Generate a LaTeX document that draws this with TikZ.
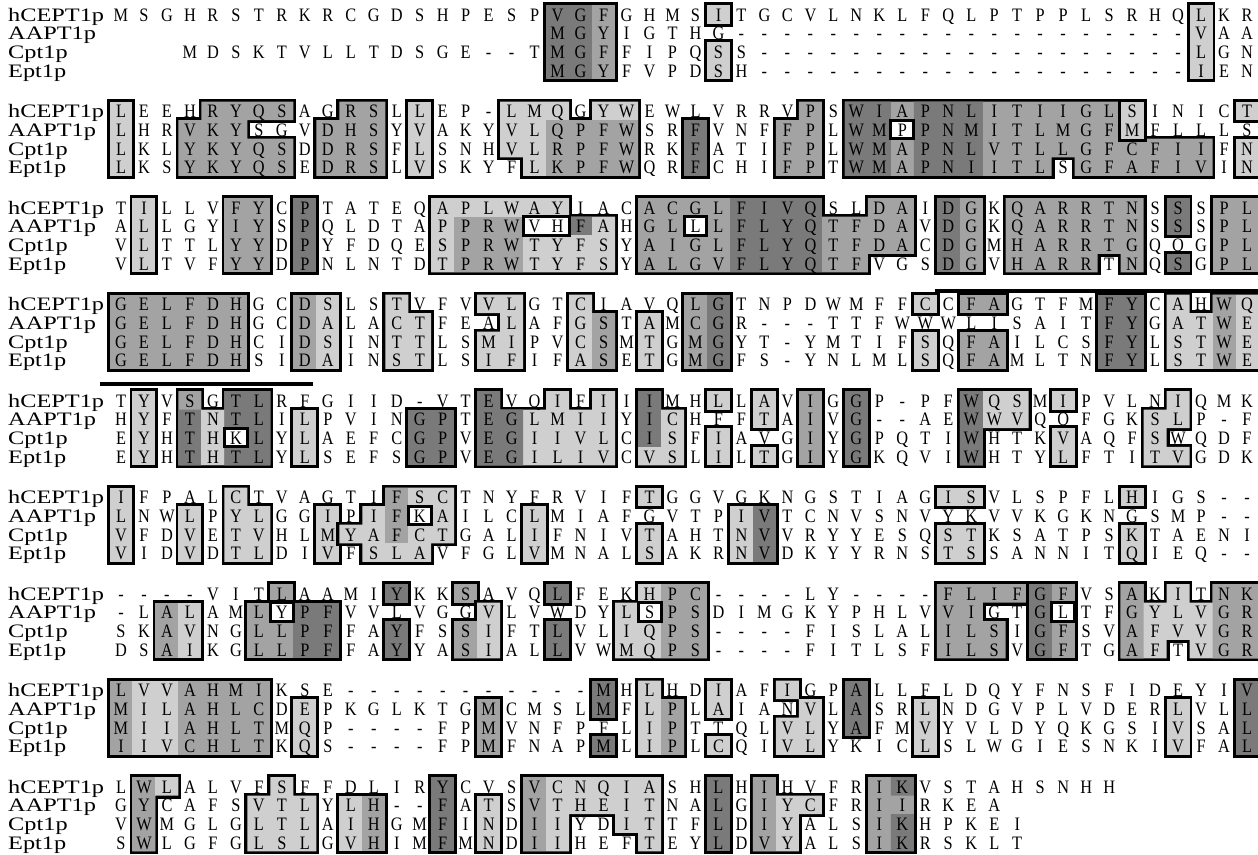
\documentclass[tikz,border=0pt]{standalone}
\usepackage{fontspec}
\setmainfont{Liberation Serif}
\usepackage{graphicx}
\colorlet{dk}{black!52}
\colorlet{md}{black!36}
\colorlet{lt}{black!19}
\def\z{}
\newcommand\setblock[1]{\pgfmathsetmacro\by{15+(#1-1)*96.5}}
\newcommand\bx[4]{({121+(#1-1)*22.98-11.49},{\by+(#3-1)*18.6-10}) rectangle ({121+(#2-1)*22.98+11.49},{\by+(#4-1)*18.6+8.6})}
\newcommand\Grp[2]{\draw[line width=5.8pt] #2; \fill[#1] #2;}
\newcommand\Sh[2]{\fill[#1] #2;}
\newcommand\Hole[1]{\draw[line width=3pt, fill=white] #1;}
\newcommand\SR[3]{\foreach \ch [count=\ci] in {#3}{\node[seq] (b#1r#2c\ci) at ({121+(\ci-1)*22.98},{15+(#1-1)*96.5+(#2-1)*18.6+6.3}) {\scalebox{0.86}[1]{\ch}};}}
\begin{document}
\begin{tikzpicture}[x=1pt,y=-1pt,
  seq/.style={font=\fontsize{19}{19}\selectfont, anchor=base, inner sep=0pt},
  lab/.style={font=\fontsize{19}{19}\selectfont, anchor=base west, inner sep=0pt},
  bar/.style={line width=4pt}]
\useasboundingbox (0,0) rectangle (1258,854);
\fill[white] (0,0) rectangle (1258,854);
% ---------------- block 1
\setblock{1}
\Grp{md}{\bx{20}{22}{1}{4}} \Sh{dk}{\bx{20}{21}{1}{4}}
\Grp{lt}{\bx{27}{27}{1}{1}}
\Grp{lt}{\bx{27}{27}{3}{4}}
\Grp{lt}{\bx{48}{48}{1}{4}}
% ---------------- block 2
\setblock{2}
\Grp{lt}{\bx{1}{1}{1}{4}}
\Grp{md}{\bx{5}{8}{1}{1} \bx{4}{6}{2}{2} \bx{4}{8}{3}{4}}
\Grp{md}{\bx{11}{12}{1}{1} \bx{10}{12}{2}{4}}
\Grp{lt}{\bx{14}{14}{1}{4}}
\Grp{lt}{\bx{18}{20}{1}{1} \bx{22}{23}{1}{1} \bx{18}{23}{2}{3} \bx{19}{23}{4}{4}} \Sh{md}{\bx{20}{23}{2}{4}}
\Grp{dk}{\bx{26}{26}{2}{4}}
\Grp{md}{\bx{31}{31}{1}{1} \bx{30}{31}{2}{4}}
\Grp{md}{\bx{33}{44}{1}{2} \bx{33}{48}{3}{3} \bx{33}{41}{4}{4} \bx{43}{48}{4}{4}} \Sh{dk}{\bx{33}{34}{1}{4} \bx{36}{38}{1}{4}} \Hole{\bx{35}{35}{2}{2}}
\Grp{lt}{\bx{45}{45}{1}{2}}
\Grp{lt}{\bx{50}{50}{1}{1}}
\Grp{lt}{\bx{50}{50}{3}{4}}
% ---------------- block 3
\setblock{3}
\Grp{lt}{\bx{2}{2}{1}{4}}
\Grp{md}{\bx{6}{7}{1}{4}}
\Grp{dk}{\bx{9}{9}{1}{4}}
\Grp{lt}{\bx{15}{20}{1}{1} \bx{15}{22}{2}{4}} \Sh{md}{\bx{16}{18}{2}{4}} \Sh{dk}{\bx{21}{21}{2}{2}} \Hole{\bx{19}{20}{2}{2}}
\Grp{md}{\bx{24}{31}{1}{1} \bx{34}{35}{1}{1} \bx{24}{35}{2}{3} \bx{24}{33}{4}{4}} \Sh{dk}{\bx{28}{31}{1}{4}} \Hole{\bx{26}{26}{2}{2}}
\Grp{md}{\bx{37}{38}{1}{4}} \Sh{dk}{\bx{37}{37}{1}{4}}
\Grp{md}{\bx{40}{45}{1}{3} \bx{40}{43}{4}{4} \bx{45}{45}{4}{4}}
\Grp{dk}{\bx{47}{47}{1}{2}}
\Grp{dk}{\bx{47}{47}{4}{4}}
\Grp{md}{\bx{49}{50}{1}{4}}
% ---------------- block 4
\setblock{4}
\Grp{md}{\bx{1}{6}{1}{4}}
\Grp{lt}{\bx{9}{10}{1}{4}} \Sh{md}{\bx{9}{9}{1}{4}}
\Grp{lt}{\bx{13}{13}{1}{4} \bx{14}{14}{2}{4}}
\Grp{lt}{\bx{17}{18}{1}{1} \bx{18}{18}{2}{2} \bx{17}{18}{3}{4}}
\Grp{lt}{\bx{21}{21}{1}{4} \bx{22}{22}{2}{4}} \Sh{md}{\bx{22}{22}{2}{4}}
\Grp{lt}{\bx{24}{24}{2}{4}}
\Grp{md}{\bx{26}{27}{1}{4}} \Sh{dk}{\bx{27}{27}{1}{4}}
\Grp{lt}{\bx{36}{36}{1}{1}}
\Grp{lt}{\bx{36}{36}{3}{4}}
\Grp{md}{\bx{38}{39}{1}{1}}
\Grp{md}{\bx{38}{39}{3}{4}}
\Grp{dk}{\bx{44}{45}{1}{4}}
\Grp{lt}{\bx{47}{47}{1}{1} \bx{49}{50}{1}{1} \bx{47}{50}{2}{4}} \Sh{md}{\bx{49}{49}{1}{4}}
\coordinate (t1) at (935,291); \coordinate (t2) at (1258,291);
\coordinate (u1) at (100,384); \coordinate (u2) at (313,384);
\draw[bar] (t1) -- (t2);
\draw[bar] (u1) -- (u2);
% ---------------- block 5
\setblock{5}
\Grp{lt}{\bx{2}{2}{1}{4}}
\Grp{md}{\bx{4}{4}{1}{1} \bx{6}{7}{1}{1} \bx{4}{7}{2}{4}} \Sh{dk}{\bx{4}{4}{2}{4} \bx{6}{7}{1}{4}} \Sh{lt}{\bx{5}{5}{2}{4}} \Hole{\bx{6}{6}{3}{3}}
\Grp{lt}{\bx{9}{9}{2}{4}}
\Grp{dk}{\bx{14}{15}{2}{4}}
\Grp{lt}{\bx{17}{17}{1}{1} \bx{20}{20}{1}{1} \bx{22}{22}{1}{1} \bx{17}{22}{2}{4}} \Sh{dk}{\bx{17}{17}{1}{4} \bx{18}{18}{2}{4}}
\Grp{lt}{\bx{24}{24}{1}{4} \bx{25}{25}{2}{4}} \Sh{dk}{\bx{24}{24}{1}{3}}
\Grp{lt}{\bx{27}{27}{1}{1}}
\Grp{lt}{\bx{27}{27}{3}{4}}
\Grp{lt}{\bx{29}{29}{1}{2}}
\Grp{lt}{\bx{29}{29}{4}{4}}
\Grp{md}{\bx{31}{31}{1}{4}}
\Grp{dk}{\bx{33}{33}{1}{4}}
\Grp{lt}{\bx{38}{40}{1}{2} \bx{38}{38}{3}{4}} \Sh{dk}{\bx{38}{38}{1}{4}}
\Grp{lt}{\bx{42}{42}{1}{1}}
\Grp{lt}{\bx{42}{42}{3}{4}}
\Grp{lt}{\bx{47}{47}{1}{1} \bx{46}{47}{2}{2} \bx{46}{46}{3}{3} \bx{46}{47}{4}{4}}
% ---------------- block 6
\setblock{6}
\Grp{lt}{\bx{1}{1}{1}{4}}
\Grp{lt}{\bx{4}{4}{2}{4}}
\Grp{lt}{\bx{6}{6}{1}{1} \bx{6}{7}{2}{4}}
\Grp{lt}{\bx{10}{10}{2}{4}}
\Grp{lt}{\bx{13}{15}{1}{1} \bx{12}{15}{2}{2} \bx{11}{15}{3}{3} \bx{12}{14}{4}{4}} \Sh{md}{\bx{13}{13}{1}{3}} \Hole{\bx{14}{14}{2}{2}}
\Grp{lt}{\bx{19}{19}{2}{4}}
\Grp{lt}{\bx{24}{24}{1}{1}}
\Grp{lt}{\bx{24}{24}{3}{4}}
\Grp{lt}{\bx{28}{29}{2}{4}} \Sh{dk}{\bx{29}{29}{2}{4}}
\Grp{lt}{\bx{37}{38}{1}{1}}
\Grp{lt}{\bx{37}{38}{3}{4}}
\Grp{lt}{\bx{45}{45}{1}{1}}
\Grp{lt}{\bx{45}{45}{3}{4}}
% ---------------- block 7
\setblock{7}
\Grp{lt}{\bx{3}{4}{2}{4}} \Sh{md}{\bx{3}{3}{2}{4}}
\Grp{md}{\bx{8}{8}{1}{1}}
\Grp{md}{\bx{7}{10}{2}{4}} \Sh{dk}{\bx{9}{10}{2}{4}} \Hole{\bx{8}{8}{2}{2}}
\Grp{dk}{\bx{13}{13}{1}{1}}
\Grp{dk}{\bx{13}{13}{3}{4}}
\Grp{md}{\bx{16}{16}{1}{1}}
\Grp{lt}{\bx{16}{16}{3}{4} \bx{17}{17}{2}{4}} \Sh{md}{\bx{16}{16}{3}{4}}
\Grp{dk}{\bx{20}{20}{1}{1}}
\Grp{dk}{\bx{20}{20}{3}{4}}
\Grp{lt}{\bx{24}{26}{1}{1} \bx{23}{26}{2}{4}} \Sh{md}{\bx{25}{26}{1}{4}} \Hole{\bx{24}{24}{2}{2}}
\Grp{md}{\bx{37}{40}{1}{1} \bx{37}{38}{2}{2} \bx{37}{39}{3}{4}}
\Grp{md}{\bx{41}{42}{1}{4}} \Sh{dk}{\bx{41}{41}{1}{4}} \Hole{\bx{42}{42}{2}{2}}
\Grp{lt}{\bx{45}{45}{1}{1} \bx{47}{47}{1}{1} \bx{49}{50}{1}{1} \bx{45}{50}{2}{3} \bx{45}{46}{4}{4} \bx{48}{50}{4}{4}} \Sh{md}{\bx{45}{45}{1}{4} \bx{49}{50}{1}{4}}
% ---------------- block 8
\setblock{8}
\Grp{md}{\bx{1}{7}{1}{4}} \Sh{lt}{\bx{2}{3}{1}{4}}
\Grp{lt}{\bx{9}{9}{2}{4}}
\Grp{md}{\bx{17}{17}{2}{4}}
\Grp{dk}{\bx{22}{22}{1}{2}}
\Grp{dk}{\bx{22}{22}{4}{4}}
\Grp{lt}{\bx{24}{24}{1}{4} \bx{25}{25}{2}{4}} \Sh{md}{\bx{25}{25}{2}{4}}
\Grp{lt}{\bx{27}{27}{1}{2}}
\Grp{lt}{\bx{27}{27}{4}{4}}
\Grp{lt}{\bx{30}{30}{1}{1} \bx{31}{31}{2}{2} \bx{30}{31}{3}{4}}
\Grp{dk}{\bx{33}{33}{1}{3}}
\Grp{lt}{\bx{36}{36}{2}{4}}
\Grp{lt}{\bx{47}{47}{2}{4}}
\Grp{dk}{\bx{50}{50}{1}{4}}
% ---------------- block 9
\setblock{9}
\Grp{lt}{\bx{2}{3}{1}{1} \bx{2}{2}{2}{4}} \Sh{md}{\bx{2}{2}{1}{4}}
\Grp{lt}{\bx{8}{8}{1}{1} \bx{7}{9}{2}{4}}
\Grp{lt}{\bx{11}{12}{2}{4}} \Sh{md}{\bx{12}{12}{2}{4}}
\Grp{dk}{\bx{15}{15}{1}{4}}
\Grp{lt}{\bx{17}{17}{2}{4}}
\Grp{lt}{\bx{19}{24}{1}{2} \bx{19}{20}{3}{4} \bx{23}{24}{3}{3} \bx{24}{24}{4}{4}} \Sh{md}{\bx{19}{19}{1}{4}}
\Grp{dk}{\bx{27}{27}{1}{4}}
\Grp{lt}{\bx{29}{29}{1}{4} \bx{30}{30}{2}{4} \bx{31}{31}{2}{2}} \Sh{md}{\bx{29}{29}{1}{4}}
\Grp{md}{\bx{34}{35}{1}{4}} \Sh{dk}{\bx{35}{35}{1}{1} \bx{35}{35}{3}{4}}
% ---------------- labels
\foreach \b in {1,...,9}{
  \node[lab] (lab\b a) at (8,{15+(\b-1)*96.5+6.3}) {\scalebox{1.28}[1]{hCEPT1p}};
  \node[lab] (lab\b b) at (8,{15+(\b-1)*96.5+18.6+6.3}) {\scalebox{1.28}[1]{AAPT1p}};
  \node[lab] (lab\b c) at (8,{15+(\b-1)*96.5+37.2+6.3}) {\scalebox{1.28}[1]{Cpt1p}};
  \node[lab] (lab\b d) at (8,{15+(\b-1)*96.5+55.8+6.3}) {\scalebox{1.28}[1]{Ept1p}};
}
% ---------------- sequences
\SR{1}{1}{M,S,G,H,R,S,T,R,K,R,C,G,D,S,H,P,E,S,P,V,G,F,G,H,M,S,I,T,G,C,V,L,N,K,L,F,Q,L,P,T,P,P,L,S,R,H,Q,L,K,R}
\SR{1}{2}{\z,\z,\z,\z,\z,\z,\z,\z,\z,\z,\z,\z,\z,\z,\z,\z,\z,\z,\z,M,G,Y,I,G,T,H,G,-,-,-,-,-,-,-,-,-,-,-,-,-,-,-,-,-,-,-,-,V,A,A}
\SR{1}{3}{\z,\z,\z,M,D,S,K,T,V,L,L,T,D,S,G,E,-,-,T,M,G,F,F,I,P,Q,S,S,-,-,-,-,-,-,-,-,-,-,-,-,-,-,-,-,-,-,-,L,G,N}
\SR{1}{4}{\z,\z,\z,\z,\z,\z,\z,\z,\z,\z,\z,\z,\z,\z,\z,\z,\z,\z,\z,M,G,Y,F,V,P,D,S,H,-,-,-,-,-,-,-,-,-,-,-,-,-,-,-,-,-,-,-,I,E,N}
\SR{2}{1}{L,E,E,H,R,Y,Q,S,A,G,R,S,L,L,E,P,-,L,M,Q,G,Y,W,E,W,L,V,R,R,V,P,S,W,I,A,P,N,L,I,T,I,I,G,L,S,I,N,I,C,T}
\SR{2}{2}{L,H,R,V,K,Y,S,G,V,D,H,S,Y,V,A,K,Y,V,L,Q,P,F,W,S,R,F,V,N,F,F,P,L,W,M,P,P,N,M,I,T,L,M,G,F,M,F,L,L,L,S}
\SR{2}{3}{L,K,L,Y,K,Y,Q,S,D,D,R,S,F,L,S,N,H,V,L,R,P,F,W,R,K,F,A,T,I,F,P,L,W,M,A,P,N,L,V,T,L,L,G,F,C,F,I,I,F,N}
\SR{2}{4}{L,K,S,Y,K,Y,Q,S,E,D,R,S,L,V,S,K,Y,F,L,K,P,F,W,Q,R,F,C,H,I,F,P,T,W,M,A,P,N,I,I,T,L,S,G,F,A,F,I,V,I,N}
\SR{3}{1}{T,I,L,L,V,F,Y,C,P,T,A,T,E,Q,A,P,L,W,A,Y,I,A,C,A,C,G,L,F,I,V,Q,S,L,D,A,I,D,G,K,Q,A,R,R,T,N,S,S,S,P,L}
\SR{3}{2}{A,L,L,G,Y,I,Y,S,P,Q,L,D,T,A,P,P,R,W,V,H,F,A,H,G,L,L,L,F,L,Y,Q,T,F,D,A,V,D,G,K,Q,A,R,R,T,N,S,S,S,P,L}
\SR{3}{3}{V,L,T,T,L,Y,Y,D,P,Y,F,D,Q,E,S,P,R,W,T,Y,F,S,Y,A,I,G,L,F,L,Y,Q,T,F,D,A,C,D,G,M,H,A,R,R,T,G,Q,Q,G,P,L}
\SR{3}{4}{V,L,T,V,F,Y,Y,D,P,N,L,N,T,D,T,P,R,W,T,Y,F,S,Y,A,L,G,V,F,L,Y,Q,T,F,V,G,S,D,G,V,H,A,R,R,T,N,Q,S,G,P,L}
\SR{4}{1}{G,E,L,F,D,H,G,C,D,S,L,S,T,V,F,V,V,L,G,T,C,I,A,V,Q,L,G,T,N,P,D,W,M,F,F,C,C,F,A,G,T,F,M,F,Y,C,A,H,W,Q}
\SR{4}{2}{G,E,L,F,D,H,G,C,D,A,L,A,C,T,F,E,A,L,A,F,G,S,T,A,M,C,G,R,-,-,-,T,T,F,W,W,W,L,I,S,A,I,T,F,Y,G,A,T,W,E}
\SR{4}{3}{G,E,L,F,D,H,C,I,D,S,I,N,T,T,L,S,M,I,P,V,C,S,M,T,G,M,G,Y,T,-,Y,M,T,I,F,S,Q,F,A,I,L,C,S,F,Y,L,S,T,W,E}
\SR{4}{4}{G,E,L,F,D,H,S,I,D,A,I,N,S,T,L,S,I,F,I,F,A,S,E,T,G,M,G,F,S,-,Y,N,L,M,L,S,Q,F,A,M,L,T,N,F,Y,L,S,T,W,E}
\SR{5}{1}{T,Y,V,S,G,T,L,R,F,G,I,I,D,-,V,T,E,V,Q,I,F,I,I,I,M,H,L,L,A,V,I,G,G,P,-,P,F,W,Q,S,M,I,P,V,L,N,I,Q,M,K}
\SR{5}{2}{H,Y,F,T,N,T,L,I,L,P,V,I,N,G,P,T,E,G,L,M,I,I,Y,I,C,H,F,F,T,A,I,V,G,-,-,A,E,W,W,V,Q,Q,F,G,K,S,L,P,-,F}
\SR{5}{3}{E,Y,H,T,H,K,L,Y,L,A,E,F,C,G,P,V,E,G,I,I,V,L,C,I,S,F,I,A,V,G,I,Y,G,P,Q,T,I,W,H,T,K,V,A,Q,F,S,W,Q,D,F}
\SR{5}{4}{E,Y,H,T,H,T,L,Y,L,S,E,F,S,G,P,V,E,G,I,L,I,V,C,V,S,L,I,L,T,G,I,Y,G,K,Q,V,I,W,H,T,Y,L,F,T,I,T,V,G,D,K}
\SR{6}{1}{I,F,P,A,L,C,T,V,A,G,T,I,F,S,C,T,N,Y,F,R,V,I,F,T,G,G,V,G,K,N,G,S,T,I,A,G,I,S,V,L,S,P,F,L,H,I,G,S,-,-}
\SR{6}{2}{L,N,W,L,P,Y,L,G,G,I,P,I,F,K,A,I,L,C,L,M,I,A,F,G,V,T,P,I,V,T,C,N,V,S,N,V,Y,K,V,V,K,G,K,N,G,S,M,P,-,-}
\SR{6}{3}{V,F,D,V,E,T,V,H,L,M,Y,A,F,C,T,G,A,L,I,F,N,I,V,T,A,H,T,N,V,V,R,Y,Y,E,S,Q,S,T,K,S,A,T,P,S,K,T,A,E,N,I}
\SR{6}{4}{V,I,D,V,D,T,L,D,I,V,F,S,L,A,V,F,G,L,V,M,N,A,L,S,A,K,R,N,V,D,K,Y,Y,R,N,S,T,S,S,A,N,N,I,T,Q,I,E,Q,-,-}
\SR{7}{1}{-,-,-,-,V,I,T,L,A,A,M,I,Y,K,K,S,A,V,Q,L,F,E,K,H,P,C,-,-,-,-,L,Y,-,-,-,-,F,L,I,F,G,F,V,S,A,K,I,T,N,K}
\SR{7}{2}{-,L,A,L,A,M,L,Y,P,F,V,V,L,V,G,G,V,L,V,W,D,Y,L,S,P,S,D,I,M,G,K,Y,P,H,L,V,V,I,G,T,G,L,T,F,G,Y,L,V,G,R}
\SR{7}{3}{S,K,A,V,N,G,L,L,P,F,F,A,Y,F,S,S,I,F,T,L,V,L,I,Q,P,S,-,-,-,-,F,I,S,L,A,L,I,L,S,I,G,F,S,V,A,F,V,V,G,R}
\SR{7}{4}{D,S,A,I,K,G,L,L,P,F,F,A,Y,Y,A,S,I,A,L,L,V,W,M,Q,P,S,-,-,-,-,F,I,T,L,S,F,I,L,S,V,G,F,T,G,A,F,T,V,G,R}
\SR{8}{1}{L,V,V,A,H,M,I,K,S,E,-,-,-,-,-,-,-,-,-,-,-,M,H,L,H,D,I,A,F,I,G,P,A,L,L,F,L,D,Q,Y,F,N,S,F,I,D,E,Y,I,V}
\SR{8}{2}{M,I,L,A,H,L,C,D,E,P,K,G,L,K,T,G,M,C,M,S,L,M,F,L,P,L,A,I,A,N,V,L,A,S,R,L,N,D,G,V,P,L,V,D,E,R,L,V,L,L}
\SR{8}{3}{M,I,I,A,H,L,T,M,Q,P,-,-,-,-,F,P,M,V,N,F,P,F,L,I,P,T,T,Q,L,V,L,Y,A,F,M,V,Y,V,L,D,Y,Q,K,G,S,I,V,S,A,L}
\SR{8}{4}{I,I,V,C,H,L,T,K,Q,S,-,-,-,-,F,P,M,F,N,A,P,M,L,I,P,L,C,Q,I,V,L,Y,K,I,C,L,S,L,W,G,I,E,S,N,K,I,V,F,A,L}
\SR{9}{1}{L,W,L,A,L,V,F,S,F,F,D,L,I,R,Y,C,V,S,V,C,N,Q,I,A,S,H,L,H,I,H,V,F,R,I,K,V,S,T,A,H,S,N,H,H}
\SR{9}{2}{G,Y,C,A,F,S,V,T,L,Y,L,H,-,-,F,A,T,S,V,T,H,E,I,T,N,A,L,G,I,Y,C,F,R,I,I,R,K,E,A}
\SR{9}{3}{V,W,M,G,L,G,L,T,L,A,I,H,G,M,F,I,N,D,I,I,Y,D,I,T,T,F,L,D,I,Y,A,L,S,I,K,H,P,K,E,I}
\SR{9}{4}{S,W,L,G,F,G,L,S,L,G,V,H,I,M,F,M,N,D,I,I,H,E,F,T,E,Y,L,D,V,Y,A,L,S,I,K,R,S,K,L,T}
\end{tikzpicture}
\end{document}
